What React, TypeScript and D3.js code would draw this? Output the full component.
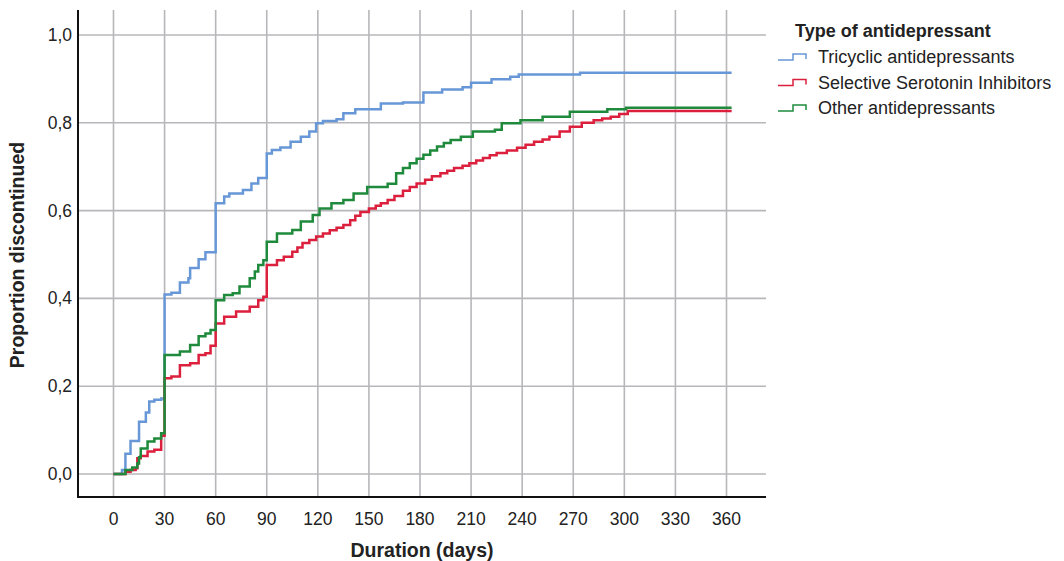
import React from "react";
import * as d3 from "d3";

const xTicks = [0, 30, 60, 90, 120, 150, 180, 210, 240, 270, 300, 330, 360];
const yTicks = [0, 0.2, 0.4, 0.6, 0.8, 1.0];
const yTickLabels = ["0,0", "0,2", "0,4", "0,6", "0,8", "1,0"];
const endDay = 363;

const tcaDays = [0, 5, 7, 10, 15, 19, 21, 24, 28, 30, 34, 39, 44, 45, 50, 54, 60, 65, 68, 76, 81, 85, 90, 93, 98, 104, 110, 115, 119, 123, 131, 135, 142, 157, 170, 182, 193, 205, 210, 222, 233, 238, 274];
const tcaValues = [0, 0.009, 0.046, 0.075, 0.119, 0.14, 0.165, 0.169, 0.172, 0.409, 0.413, 0.436, 0.446, 0.469, 0.489, 0.505, 0.617, 0.632, 0.639, 0.647, 0.662, 0.674, 0.73, 0.738, 0.744, 0.757, 0.768, 0.78, 0.799, 0.804, 0.808, 0.822, 0.831, 0.844, 0.846, 0.869, 0.876, 0.881, 0.891, 0.899, 0.905, 0.91, 0.914];

const ssriDays = [0, 7, 10, 13, 14, 16, 20, 24, 28, 30, 34, 39, 45, 50, 54, 57, 60, 65, 72, 80, 85, 88, 90, 96, 100, 105, 108, 111, 115, 119, 123, 127, 131, 135, 139, 142, 145, 150, 154, 157, 161, 165, 170, 174, 178, 183, 187, 192, 196, 200, 205, 209, 213, 217, 221, 225, 231, 237, 242, 247, 252, 256, 262, 268, 275, 282, 287, 292, 297, 302];
const ssriValues = [0, 0.005, 0.009, 0.013, 0.036, 0.041, 0.051, 0.055, 0.087, 0.218, 0.222, 0.248, 0.252, 0.271, 0.275, 0.292, 0.343, 0.358, 0.37, 0.381, 0.396, 0.404, 0.476, 0.487, 0.495, 0.506, 0.516, 0.526, 0.533, 0.541, 0.548, 0.555, 0.561, 0.567, 0.578, 0.588, 0.597, 0.605, 0.611, 0.617, 0.624, 0.633, 0.645, 0.654, 0.662, 0.67, 0.678, 0.685, 0.691, 0.697, 0.702, 0.708, 0.714, 0.72, 0.726, 0.731, 0.737, 0.743, 0.75, 0.757, 0.762, 0.768, 0.78, 0.791, 0.8, 0.806, 0.81, 0.814, 0.82, 0.827];

const otherDays = [0, 7, 11, 14, 15, 16, 20, 24, 28, 30, 39, 45, 50, 54, 57, 60, 65, 70, 74, 80, 83, 85, 88, 90, 96, 105, 110, 117, 121, 128, 135, 141, 149, 161, 166, 170, 174, 178, 182, 186, 190, 194, 198, 204, 211, 224, 228, 239, 252, 268, 290, 301];
const otherValues = [0, 0.009, 0.015, 0.024, 0.038, 0.058, 0.074, 0.081, 0.093, 0.271, 0.279, 0.294, 0.314, 0.32, 0.328, 0.396, 0.408, 0.412, 0.427, 0.446, 0.461, 0.476, 0.487, 0.529, 0.548, 0.556, 0.575, 0.59, 0.605, 0.617, 0.624, 0.639, 0.654, 0.661, 0.685, 0.697, 0.708, 0.718, 0.727, 0.737, 0.746, 0.754, 0.761, 0.768, 0.78, 0.784, 0.799, 0.806, 0.814, 0.825, 0.831, 0.834];

const seriesNames = ["Tricyclic antidepressants", "Selective Serotonin Inhibitors", "Other antidepressants"];
const seriesColors = ["#6797d6", "#dc1f3d", "#1f8a3c"];

const FONT = "Liberation Sans, Arial, sans-serif";

export default function App() {
  const W = 1064, H = 561;
  const left = 78, right = 766, top = 10, bottom = 497;
  const x = d3.scaleLinear().domain([0, 360]).range([113.5, 726.5]);
  const y = d3.scaleLinear().domain([0, 1]).range([474, 35]);

  const series = [
    { days: tcaDays, values: tcaValues },
    { days: ssriDays, values: ssriValues },
    { days: otherDays, values: otherValues },
  ].map((s) => {
    const pts: [number, number][] = s.days.map((d, i) => [d, s.values[i]]);
    pts.push([endDay, s.values[s.values.length - 1]]);
    return pts;
  });

  const line = d3
    .line<[number, number]>()
    .x((d) => x(d[0]))
    .y((d) => y(d[1]))
    .curve(d3.curveStepAfter);

  const gridColor = "#b7b7bb";

  return (
    <svg width={W} height={H} style={{ position: "absolute", left: 0, top: 0, background: "#fff" }} fontFamily={FONT}>
      {xTicks.map((t) => (
        <line key={"gx" + t} x1={x(t)} x2={x(t)} y1={top} y2={bottom} stroke={gridColor} strokeWidth={1.6} />
      ))}
      {yTicks.map((t) => (
        <line key={"gy" + t} x1={left} x2={right} y1={y(t)} y2={y(t)} stroke={gridColor} strokeWidth={1.6} />
      ))}
      {series.map((pts, i) => (
        <path key={"s" + i} d={line(pts) || ""} fill="none" stroke={seriesColors[i]} strokeWidth={2.5} />
      ))}
      <line x1={left} x2={left} y1={top} y2={bottom + 1} stroke="#111" strokeWidth={2} />
      <line x1={left - 1} x2={right} y1={bottom} y2={bottom} stroke="#111" strokeWidth={2} />
      {yTicks.map((t, i) => (
        <text key={"yl" + t} x={72} y={y(t) + 6} textAnchor="end" fontSize={17.5} fill="#222">
          {yTickLabels[i]}
        </text>
      ))}
      {xTicks.map((t) => (
        <text key={"xl" + t} x={x(t)} y={525} textAnchor="middle" fontSize={17.5} fill="#222">
          {t}
        </text>
      ))}
      <text x={422} y={557} textAnchor="middle" fontSize={19.5} fontWeight="bold" fill="#222">
        Duration (days)
      </text>
      <text transform="translate(24,255) rotate(-90)" textAnchor="middle" fontSize={19.5} fontWeight="bold" fill="#222">
        Proportion discontinued
      </text>
      <text x={795} y={37} fontSize={18} fontWeight="bold" fill="#222">
        Type of antidepressant
      </text>
      {seriesNames.map((n, i) => {
        const by = 63 + i * 25.5;
        return (
          <g key={"lg" + i}>
            <path
              d={`M778,${by - 3}H793V${by - 9}H806V${by - 4}`}
              fill="none"
              stroke={seriesColors[i]}
              strokeWidth={1.5}
            />
            <text x={818} y={by} fontSize={18} fill="#222">
              {n}
            </text>
          </g>
        );
      })}
    </svg>
  );
}
